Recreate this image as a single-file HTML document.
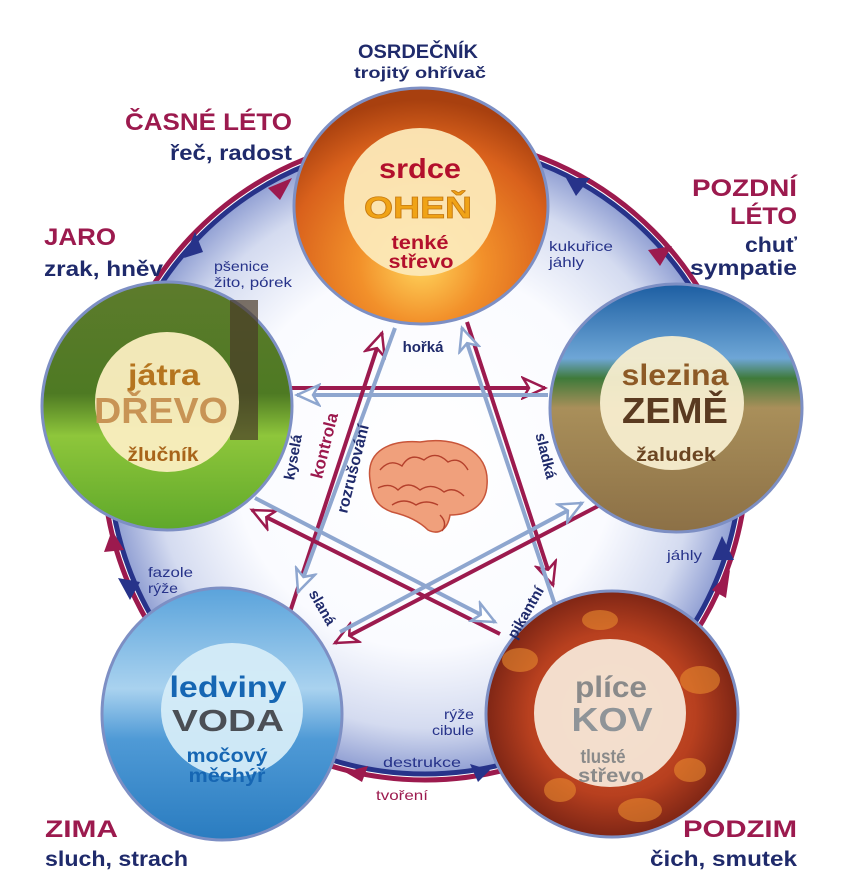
<!DOCTYPE html>
<html><head><meta charset="utf-8"><style>
html,body{margin:0;padding:0;background:#fff;}
svg{display:block;}
text{font-family:"Liberation Sans Narrow","Liberation Sans",sans-serif;font-weight:bold;}
</style></head><body>
<svg width="866" height="880" viewBox="0 0 866 880" xmlns="http://www.w3.org/2000/svg">
<defs>
<radialGradient id="bg" cx="50%" cy="50%" r="50%">
<stop offset="0" stop-color="#fff"/><stop offset="0.6" stop-color="#fafbff"/><stop offset="0.85" stop-color="#d4dbf0"/><stop offset="1" stop-color="#8e9dd2"/>
</radialGradient>
<radialGradient id="fire" cx="50%" cy="75%" r="70%">
<stop offset="0" stop-color="#ffd35a"/><stop offset="0.35" stop-color="#f2902a"/><stop offset="0.75" stop-color="#d9611c"/><stop offset="1" stop-color="#a8400f"/>
</radialGradient>
<linearGradient id="wood" x1="0" y1="0" x2="0" y2="1">
<stop offset="0" stop-color="#5d7b2c"/><stop offset="0.45" stop-color="#4e7a23"/><stop offset="0.62" stop-color="#8ec63b"/><stop offset="1" stop-color="#5fa82a"/>
</linearGradient>
<linearGradient id="earth" x1="0" y1="0" x2="0" y2="1">
<stop offset="0" stop-color="#1c5ea2"/><stop offset="0.3" stop-color="#6ea6d6"/><stop offset="0.38" stop-color="#3f7a3a"/><stop offset="0.5" stop-color="#a98f5a"/><stop offset="1" stop-color="#8c7046"/>
</linearGradient>
<linearGradient id="water" x1="0" y1="0" x2="0" y2="1">
<stop offset="0" stop-color="#5aa3db"/><stop offset="0.4" stop-color="#a9d2ef"/><stop offset="0.6" stop-color="#4f9ad6"/><stop offset="1" stop-color="#2a7cc0"/>
</linearGradient>
<radialGradient id="metal" cx="50%" cy="50%" r="55%">
<stop offset="0" stop-color="#d2582a"/><stop offset="0.6" stop-color="#b8401f"/><stop offset="1" stop-color="#6e1e12"/>
</radialGradient>
<marker id="ar" viewBox="-2 -12 28 24" refX="22" refY="0" markerWidth="28" markerHeight="24" markerUnits="userSpaceOnUse" orient="auto">
<polygon points="0,-10 22,0 0,10 6,0" fill="#fff" stroke="#9c1a4e" stroke-width="2.5"/>
</marker>
<marker id="ab" viewBox="-2 -12 28 24" refX="22" refY="0" markerWidth="28" markerHeight="24" markerUnits="userSpaceOnUse" orient="auto">
<polygon points="0,-10 22,0 0,10 6,0" fill="#fff" stroke="#8ea6cf" stroke-width="2.5"/>
</marker>
</defs>

<circle cx="425" cy="458" r="318" fill="url(#bg)"/>
<circle cx="425" cy="458" r="322" fill="none" stroke="#9c1a4e" stroke-width="5"/>
<circle cx="425" cy="458" r="316" fill="none" stroke="#27338a" stroke-width="5"/>
<polygon points="268,188 292,178 280,200" fill="#9c1a4e"/>
<polygon points="184,258 195,232 203,252" fill="#27338a"/>
<polygon points="660,266 672,246 648,250" fill="#9c1a4e"/>
<polygon points="590,178 566,178 576,196" fill="#27338a"/>
<polygon points="712,590 730,570 726,598" fill="#9c1a4e"/>
<polygon points="722,536 712,560 734,560" fill="#27338a"/>
<polygon points="130,600 118,578 140,582" fill="#27338a"/>
<polygon points="112,530 104,552 124,550" fill="#9c1a4e"/>
<polygon points="362,782 345,772 368,766" fill="#9c1a4e"/>
<polygon points="490,770 470,764 478,782" fill="#27338a"/>

<g stroke-width="4" fill="none">
<line x1="288" y1="388" x2="545" y2="388" stroke="#9c1a4e" marker-end="url(#ar)"/>
<line x1="548" y1="395" x2="297" y2="395" stroke="#8ea6cf" marker-end="url(#ab)"/>
<line x1="290" y1="612" x2="382" y2="333" stroke="#9c1a4e" marker-end="url(#ar)"/>
<line x1="395" y1="328" x2="298" y2="592" stroke="#8ea6cf" marker-end="url(#ab)"/>
<line x1="467" y1="322" x2="553" y2="585" stroke="#9c1a4e" marker-end="url(#ar)"/>
<line x1="555" y1="605" x2="462" y2="328" stroke="#8ea6cf" marker-end="url(#ab)"/>
<line x1="500" y1="634" x2="252" y2="510" stroke="#9c1a4e" marker-end="url(#ar)"/>
<line x1="255" y1="498" x2="495" y2="622" stroke="#8ea6cf" marker-end="url(#ab)"/>
<line x1="600" y1="505" x2="335" y2="643" stroke="#9c1a4e" marker-end="url(#ar)"/>
<line x1="340" y1="632" x2="582" y2="503" stroke="#8ea6cf" marker-end="url(#ab)"/>
</g>

<g>
<path d="M370,480 C365,445 400,440 420,442 C455,436 490,450 487,485 C486,505 470,515 450,515 C448,528 440,536 428,530 C418,520 405,515 392,512 C375,506 372,495 370,480 Z" fill="#f0a07c" stroke="#c8553a" stroke-width="1.5"/>
<path d="M380,470 q10,-12 22,-4 q8,-14 22,-6 q12,-10 24,2 q12,-6 20,8 M378,488 q12,-6 20,2 q10,-10 22,0 q12,-8 24,2 q10,-6 20,4 M392,505 q12,-8 24,0 q10,-6 22,0 M440,515 q8,8 2,16" fill="none" stroke="#b4402c" stroke-width="1.4"/>
</g>

<g stroke="#7d8fc4" stroke-width="3">
<ellipse cx="421" cy="206" rx="127" ry="118" fill="url(#fire)"/>
<ellipse cx="167" cy="406" rx="125" ry="124" fill="url(#wood)"/>
<ellipse cx="676" cy="408" rx="126" ry="124" fill="url(#earth)"/>
<ellipse cx="222" cy="714" rx="120" ry="126" fill="url(#water)"/>
<ellipse cx="612" cy="714" rx="126" ry="123" fill="url(#metal)"/>
</g>
<g fill="#e88a2e" opacity="0.6">
<ellipse cx="520" cy="660" rx="18" ry="12"/><ellipse cx="700" cy="680" rx="20" ry="14"/><ellipse cx="640" cy="810" rx="22" ry="12"/><ellipse cx="560" cy="790" rx="16" ry="12"/><ellipse cx="690" cy="770" rx="16" ry="12"/><ellipse cx="600" cy="620" rx="18" ry="10"/>
</g>
<rect x="230" y="300" width="28" height="140" fill="#4a3a28" opacity="0.7"/>
<g fill="#fbeec0" opacity="0.95">
<ellipse cx="420" cy="202" rx="76" ry="74" fill="#fce9b8"/>
<ellipse cx="167" cy="402" rx="72" ry="70"/>
<ellipse cx="672" cy="403" rx="72" ry="67" fill="#f7edcf"/>
<ellipse cx="232" cy="710" rx="71" ry="67" fill="#d5ecf8"/>
<ellipse cx="610" cy="713" rx="76" ry="74" fill="#f6e6d6"/>
</g>

<g text-anchor="middle" lengthAdjust="spacingAndGlyphs">
<text x="420" y="178" font-size="28" fill="#b3102c" textLength="82" lengthAdjust="spacingAndGlyphs">srdce</text>
<text x="418" y="218" font-size="31" fill="#f0a316" stroke="#c77a10" stroke-width="0.8" textLength="108" lengthAdjust="spacingAndGlyphs">OHEŇ</text>
<text x="420" y="249" font-size="19" fill="#b3102c" textLength="57" lengthAdjust="spacingAndGlyphs">tenké</text>
<text x="421" y="268" font-size="19" fill="#b3102c" textLength="65" lengthAdjust="spacingAndGlyphs">střevo</text>

<text x="164" y="385" font-size="30" fill="#b5751f" textLength="72" lengthAdjust="spacingAndGlyphs">játra</text>
<text x="161" y="423" font-size="36" fill="#c89455" textLength="134" lengthAdjust="spacingAndGlyphs">DŘEVO</text>
<text x="163" y="461" font-size="19" fill="#a8641a" textLength="71" lengthAdjust="spacingAndGlyphs">žlučník</text>

<text x="675" y="385" font-size="30" fill="#8d5a26" textLength="107" lengthAdjust="spacingAndGlyphs">slezina</text>
<text x="675" y="423" font-size="36" fill="#5a3a20" textLength="106" lengthAdjust="spacingAndGlyphs">ZEMĚ</text>
<text x="676" y="461" font-size="19" fill="#6b4522" textLength="80" lengthAdjust="spacingAndGlyphs">žaludek</text>

<text x="228" y="697" font-size="30" fill="#1666b3" textLength="117" lengthAdjust="spacingAndGlyphs">ledviny</text>
<text x="228" y="731" font-size="31" fill="#4b4f55" textLength="112" lengthAdjust="spacingAndGlyphs">VODA</text>
<text x="227" y="762" font-size="19" fill="#1666b3" textLength="81" lengthAdjust="spacingAndGlyphs">močový</text>
<text x="227" y="782" font-size="19" fill="#1666b3" textLength="77" lengthAdjust="spacingAndGlyphs">měchýř</text>

<text x="611" y="697" font-size="30" fill="#8a8a8a" textLength="72" lengthAdjust="spacingAndGlyphs">plíce</text>
<text x="612" y="731" font-size="33" fill="#8f9498" textLength="81" lengthAdjust="spacingAndGlyphs">KOV</text>
<text x="603" y="763" font-size="19" fill="#8a8a8a" textLength="45" lengthAdjust="spacingAndGlyphs">tlusté</text>
<text x="611" y="782" font-size="19" fill="#8a8a8a" textLength="66" lengthAdjust="spacingAndGlyphs">střevo</text>
</g>

<g font-size="24" fill="#9c1a4e">
<text x="418" y="58" text-anchor="middle" font-size="19" fill="#1f2a6b" textLength="120" lengthAdjust="spacingAndGlyphs">OSRDEČNÍK</text>
<text x="420" y="78" text-anchor="middle" font-size="16" fill="#1f2a6b" textLength="132" lengthAdjust="spacingAndGlyphs">trojitý ohřívač</text>
<text x="125" y="130" textLength="167" lengthAdjust="spacingAndGlyphs">ČASNÉ LÉTO</text>
<text x="170" y="160" font-size="21" fill="#1f2a6b" textLength="122" lengthAdjust="spacingAndGlyphs">řeč, radost</text>
<text x="44" y="245" textLength="72" lengthAdjust="spacingAndGlyphs">JARO</text>
<text x="44" y="276" font-size="21" fill="#1f2a6b" textLength="119" lengthAdjust="spacingAndGlyphs">zrak, hněv</text>
<text x="692" y="196" textLength="105" lengthAdjust="spacingAndGlyphs">POZDNÍ</text>
<text x="730" y="224" textLength="67" lengthAdjust="spacingAndGlyphs">LÉTO</text>
<text x="745" y="252" font-size="21" fill="#1f2a6b" textLength="52" lengthAdjust="spacingAndGlyphs">chuť</text>
<text x="690" y="275" font-size="21" fill="#1f2a6b" textLength="107" lengthAdjust="spacingAndGlyphs">sympatie</text>
<text x="45" y="837" textLength="73" lengthAdjust="spacingAndGlyphs">ZIMA</text>
<text x="45" y="866" font-size="21" fill="#1f2a6b" textLength="143" lengthAdjust="spacingAndGlyphs">sluch, strach</text>
<text x="683" y="837" textLength="114" lengthAdjust="spacingAndGlyphs">PODZIM</text>
<text x="650" y="866" font-size="21" fill="#1f2a6b" textLength="147" lengthAdjust="spacingAndGlyphs">čich, smutek</text>
</g>

<g font-size="14" fill="#27338a">
<text x="214" y="271" style="font-weight:normal" textLength="55" lengthAdjust="spacingAndGlyphs">pšenice</text>
<text x="214" y="287" style="font-weight:normal" textLength="78" lengthAdjust="spacingAndGlyphs">žito, pórek</text>
<text x="549" y="251" style="font-weight:normal" textLength="64" lengthAdjust="spacingAndGlyphs">kukuřice</text>
<text x="549" y="267" style="font-weight:normal" textLength="35" lengthAdjust="spacingAndGlyphs">jáhly</text>
<text x="148" y="577" style="font-weight:normal" textLength="45" lengthAdjust="spacingAndGlyphs">fazole</text>
<text x="148" y="593" style="font-weight:normal" textLength="30" lengthAdjust="spacingAndGlyphs">rýže</text>
<text x="667" y="560" style="font-weight:normal" textLength="35" lengthAdjust="spacingAndGlyphs">jáhly</text>
<text x="444" y="719" style="font-weight:normal" textLength="30" lengthAdjust="spacingAndGlyphs">rýže</text>
<text x="432" y="735" style="font-weight:normal" textLength="42" lengthAdjust="spacingAndGlyphs">cibule</text>
<text x="383" y="767" style="font-weight:normal" textLength="78" lengthAdjust="spacingAndGlyphs">destrukce</text>
<text x="376" y="800" fill="#9c1a4e" style="font-weight:normal" textLength="52" lengthAdjust="spacingAndGlyphs">tvoření</text>
</g>

<g font-size="15" fill="#1f2a6b" text-anchor="middle">
<text x="423" y="352">hořká</text>
<text transform="translate(298,458) rotate(-80)">kyselá</text>
<text transform="translate(330,447) rotate(-76)" fill="#9c1a4e" font-size="17">kontrola</text>
<text transform="translate(358,470) rotate(-76)" font-size="16">rozrušování</text>
<text transform="translate(541,457) rotate(76)">sladká</text>
<text transform="translate(318,610) rotate(60)">slaná</text>
<text transform="translate(530,615) rotate(-60)">pikantní</text>
</g>
</svg>
</body></html>
